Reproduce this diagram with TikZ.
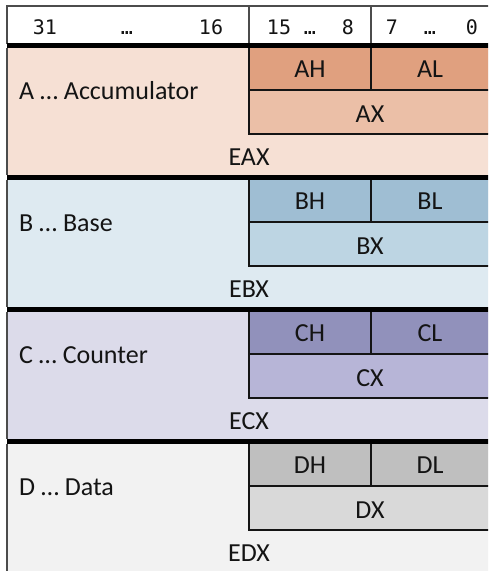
\documentclass[tikz,border=0pt]{standalone}
\usepackage{fontspec}
\setmainfont{Carlito}
\newfontfamily\bitfont{DejaVu Sans Mono}

% register palettes: background, byte cells, word cell
\definecolor{aBg}{HTML}{F6E0D4}\definecolor{aHi}{HTML}{E0A07F}\definecolor{aMid}{HTML}{EBBFA7}
\definecolor{bBg}{HTML}{DEEAF1}\definecolor{bHi}{HTML}{9FBED3}\definecolor{bMid}{HTML}{BDD5E3}
\definecolor{cBg}{HTML}{DCDBEA}\definecolor{cHi}{HTML}{9191BB}\definecolor{cMid}{HTML}{B7B5D7}
\definecolor{dBg}{HTML}{F2F2F2}\definecolor{dHi}{HTML}{BFBFBF}\definecolor{dMid}{HTML}{D9D9D9}
\definecolor{ink}{HTML}{141414}

\begin{document}
\begin{tikzpicture}[x=1pt,y=-1pt,
  rule/.style={draw=ink, line width=1.3pt},
  frame/.style={draw=black!70, line width=1.3pt},
  sep/.style={fill=black},
  lbl/.style={font=\fontsize{26}{26}\selectfont, inner sep=0pt, text=ink},
  bit/.style={font=\bitfont\fontsize{20}{20}\selectfont, inner sep=0pt, text=ink, anchor=base}]
\useasboundingbox (0,0) rectangle (488,571);
\clip (0,0) rectangle (488,571);

% bit-number header
\fill[white] (7,6) rectangle (495,44);
\draw[frame] (7,44) -- (7,6) -- (495,6);
\draw[frame] (249,6) -- (249,44);
\draw[frame] (371,6) -- (371,44);
\node[bit] (b31) at (45,34) {31};
\node[bit] (d1) at (127,34) {…};
\node[bit] (b16) at (211,34) {16};
\node[bit] (b15) at (279,34) {15};
\node[bit] (d2) at (310,34) {…};
\node[bit] (b8) at (348,34) {8};
\node[bit] (b7) at (392,34) {7};
\node[bit] (d3) at (430,34) {…};
\node[bit] (b0) at (472,34) {0};

% one band per general-purpose register
\foreach \i/\r/\desc/\bg/\hi/\mid in {0/A/Accumulator/aBg/aHi/aMid, 1/B/Base/bBg/bHi/bMid,
                                   2/C/Counter/cBg/cHi/cMid, 3/D/Data/dBg/dHi/dMid}{
  \pgfmathsetmacro\s{48+132*\i}
  \fill[\bg] (7,\s) rectangle (495,\s+127);
  \fill[\hi] (249,\s) rectangle (495,\s+42);
  \fill[\mid] (249,\s+42) rectangle (495,\s+86);
  \draw[rule] (249,\s) -- (249,\s+86) -- (495,\s+86);
  \draw[rule] (249,\s+42) -- (495,\s+42);
  \draw[rule] (371,\s) -- (371,\s+42);
  \draw[frame] (7,\s) -- (7,\s+127);
  \fill[sep] (7,\s-5) rectangle (495,\s);
  \node[lbl, anchor=base west] (\r-name) at (19,\s+51) {\r\ … \desc};
  \node[lbl, anchor=base] (\r-hi) at (310,\s+29) {\r H};
  \node[lbl, anchor=base] (\r-lo) at (430,\s+29) {\r L};
  \node[lbl, anchor=base] (\r-x) at (370,\s+74) {\r X};
  \node[lbl, anchor=base] (\r-ex) at (249,\s+117) {E\r X};
}
\end{tikzpicture}
\end{document}
